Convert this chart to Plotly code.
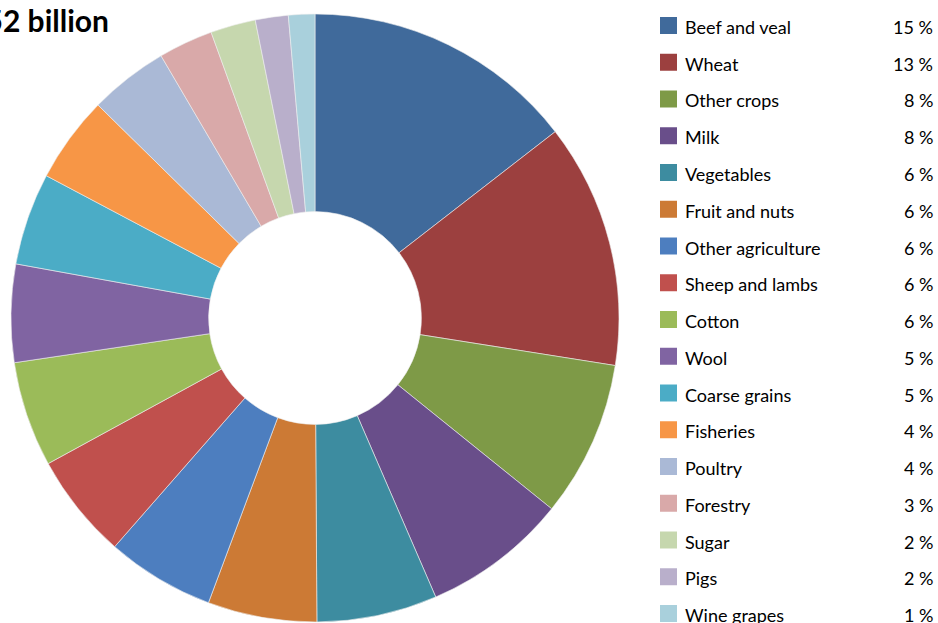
import plotly.graph_objects as go

labels = ["Beef and veal", "Wheat", "Other crops", "Milk", "Vegetables", "Fruit and nuts",
          "Other agriculture", "Sheep and lambs", "Cotton", "Wool", "Coarse grains",
          "Fisheries", "Poultry", "Forestry", "Sugar", "Pigs", "Wine grapes"]
values = [14.5, 13.0, 8.3, 7.7, 6.4, 5.8, 5.75, 5.6, 5.6, 5.2, 4.9, 4.6, 4.2, 2.9, 2.4, 1.75, 1.4]
pct_labels = ["15 %", "13 %", "8 %", "8 %", "6 %", "6 %", "6 %", "6 %", "6 %", "5 %", "5 %",
              "4 %", "4 %", "3 %", "2 %", "2 %", "1 %"]
colors = ["#406A9B", "#9C403F", "#7E9A47", "#694E8A", "#3D8CA0", "#CC7A35", "#4D7EBF",
          "#C0504D", "#9BBB59", "#8064A2", "#4BACC6", "#F79646", "#AAB9D6", "#D9A9A9",
          "#C6D7AE", "#B9AFCB", "#A9D0DC"]
title_text = "Gross value of farm, fisheries and forestry production $52 billion"

W, H = 938, 623
fig = go.Figure()
fig.add_trace(go.Pie(
    labels=labels, values=values, sort=False, direction="clockwise", rotation=0,
    hole=0.35, textinfo="none", hoverinfo="label+percent",
    marker=dict(colors=colors, line=dict(color="#EEEEEE", width=0.6)),
    domain=dict(x=[11 / W, 619 / W], y=[(H - 622) / H, (H - 14) / H]),
    showlegend=False,
))

shapes = []
annotations = []
row0, step = 27, 36.75
for i, (lab, pct, col) in enumerate(zip(labels, pct_labels, colors)):
    yc = row0 + i * step
    shapes.append(dict(type="rect", xref="paper", yref="paper",
                       x0=660 / W, x1=677 / W, y0=(H - (yc - 10)) / H, y1=(H - (yc + 7)) / H,
                       fillcolor=col, line=dict(width=0)))
    annotations.append(dict(text=lab, xref="paper", yref="paper", x=683 / W, y=(H - yc) / H,
                            xanchor="left", yanchor="middle", showarrow=False,
                            font=dict(family="Lato", size=18, color="black")))
    annotations.append(dict(text=pct, xref="paper", yref="paper", x=935 / W, y=(H - yc) / H,
                            xanchor="right", yanchor="middle", showarrow=False,
                            font=dict(family="Lato", size=18, color="black")))

annotations.append(dict(text="<b>" + title_text + "</b>", xref="paper", yref="paper",
                        x=111 / W, y=(H - 20) / H, xanchor="right", yanchor="middle",
                        showarrow=False, font=dict(family="Lato", size=30, color="black")))

fig.update_layout(width=W, height=H, margin=dict(l=0, r=0, t=0, b=0),
                  paper_bgcolor="white", plot_bgcolor="white",
                  shapes=shapes, annotations=annotations)
fig.write_html("out.html")
